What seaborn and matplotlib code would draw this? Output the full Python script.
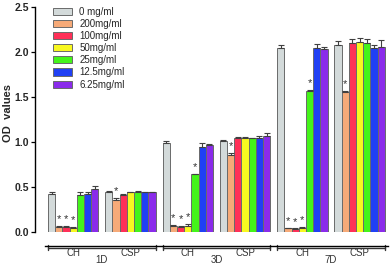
import numpy as np
import pandas as pd
import matplotlib
matplotlib.use("Agg")
import matplotlib.pyplot as plt
import seaborn as sns

groups = ["CH 1D", "CSP 1D", "CH 3D", "CSP 3D", "CH 7D", "CSP 7D"]
group_short = ["CH", "CSP", "CH", "CSP", "CH", "CSP"]
days = ["1D", "3D", "7D"]
concs = ["0 mg/ml", "200mg/ml", "100mg/ml", "50mg/ml", "25mg/ml", "12.5mg/ml", "6.25mg/ml"]
colors = ["#d3dada", "#f6aa78", "#ff3058", "#f8f820", "#44f41a", "#2040f4", "#8a2bea"]

vals_1d_ch = [0.42, 0.06, 0.06, 0.05, 0.41, 0.42, 0.48]
vals_1d_csp = [0.45, 0.36, 0.41, 0.44, 0.45, 0.44, 0.44]
vals_3d_ch = [0.99, 0.07, 0.06, 0.07, 0.64, 0.95, 0.97]
vals_3d_csp = [1.01, 0.86, 1.05, 1.05, 1.04, 1.05, 1.07]
vals_7d_ch = [2.04, 0.04, 0.03, 0.05, 1.57, 2.04, 2.03]
vals_7d_csp = [2.08, 1.56, 2.10, 2.11, 2.10, 2.05, 2.06]

err_1d_ch = [0.02, 0.01, 0.01, 0.01, 0.03, 0.02, 0.03]
err_1d_csp = [0.01, 0.02, 0.01, 0.01, 0.01, 0.01, 0.01]
err_3d_ch = [0.02, 0.01, 0.01, 0.02, 0.01, 0.04, 0.01]
err_3d_csp = [0.01, 0.02, 0.01, 0.01, 0.01, 0.02, 0.03]
err_7d_ch = [0.04, 0.01, 0.01, 0.01, 0.01, 0.05, 0.03]
err_7d_csp = [0.04, 0.01, 0.05, 0.05, 0.05, 0.03, 0.07]

# significance stars (group index, conc index)
stars = [(0, 1), (0, 2), (0, 3), (1, 1),
         (2, 1), (2, 2), (2, 3), (2, 4), (3, 1),
         (4, 1), (4, 2), (4, 3), (4, 4), (5, 1)]

all_vals = [vals_1d_ch, vals_1d_csp, vals_3d_ch, vals_3d_csp, vals_7d_ch, vals_7d_csp]
all_errs = [err_1d_ch, err_1d_csp, err_3d_ch, err_3d_csp, err_7d_ch, err_7d_csp]

rows = []
for g, vs in zip(groups, all_vals):
    for c, v in zip(concs, vs):
        rows.append({"group": g, "conc": c, "value": v})
df = pd.DataFrame(rows)

sns.set_style("ticks")
plt.rcParams["font.family"] = ["Liberation Sans", "DejaVu Sans"]

fig = plt.figure(figsize=(3.92, 2.65), dpi=100)
ax = fig.add_axes([35 / 392, 33 / 265, 355 / 392, 225 / 265])

width = 0.88
sns.barplot(data=df, x="group", y="value", hue="conc", order=groups,
            hue_order=concs, palette=colors, width=width, errorbar=None,
            edgecolor="#6a6a6a", linewidth=0.7, ax=ax, gap=0, saturation=1)

bar_conts = list(ax.containers)
# error bars & stars
for ci, cont in enumerate(bar_conts):
    for gi, bar in enumerate(cont.patches):
        xc = bar.get_x() + bar.get_width() / 2
        h = bar.get_height()
        e = all_errs[gi][ci]
        ax.errorbar([xc], [h], yerr=[[0], [e]], fmt="none", ecolor="#404040",
                    elinewidth=0.8, capsize=2.2, capthick=0.8, zorder=3)
        if (gi, ci) in stars:
            ax.text(xc, h + e + 0.02, "*", ha="center", va="bottom",
                    fontsize=8, color="#333333")

ax.set_ylim(0, 2.5)
ax.set_xlim(-0.667, 5.53)
ax.set_yticks([0, 0.5, 1.0, 1.5, 2.0, 2.5])
ax.set_yticklabels(["0.0", "0.5", "1.0", "1.5", "2.0", "2.5"],
                   fontsize=7.5, fontweight="bold")
ax.set_ylabel("OD  values", fontsize=8, fontweight="bold")
ax.yaxis.set_label_coords(-0.063, 0.527)
ax.set_xlabel("")
ax.set_xticks([])
ax.tick_params(axis="y", length=3, width=0.9, pad=1.5, color="black")
sns.despine(ax=ax)
ax.spines["left"].set_linewidth(1.0)
ax.spines["left"].set_color("black")
ax.spines["bottom"].set_position(("outward", 10))
ax.spines["bottom"].set_bounds(-0.49, 5.49)
ax.spines["bottom"].set_linewidth(1.0)
ax.spines["bottom"].set_color("black")

# brackets
yb = -0.175
for d, day in enumerate(days):
    x0 = 2 * d - width / 2
    x1 = 2 * d + 1 + width / 2
    ax.plot([x0, x1], [yb, yb], color="#333333", lw=1.0, clip_on=False)
    for xx in (x0, x1):
        ax.plot([xx, xx], [yb - 0.03, yb + 0.03], color="#333333", lw=1.0, clip_on=False)
    ax.text(2 * d, -0.235, group_short[2 * d], ha="center", va="center",
            fontsize=7, color="#333333", clip_on=False)
    ax.text(2 * d + 1, -0.235, group_short[2 * d + 1], ha="center", va="center",
            fontsize=7, color="#333333", clip_on=False)
    ax.text(2 * d + 0.5, -0.31, day, ha="center", va="center",
            fontsize=7, color="#333333", clip_on=False)

leg = ax.legend(loc="upper left", bbox_to_anchor=(0.045, 1.01), frameon=False,
                fontsize=7, handlelength=2.0, handleheight=0.75,
                labelspacing=0.22, handletextpad=0.7, borderaxespad=0,
                borderpad=0.2)
for h in leg.legend_handles:
    h.set_edgecolor("#6a6a6a")

fig.savefig("out.png", dpi=100)
